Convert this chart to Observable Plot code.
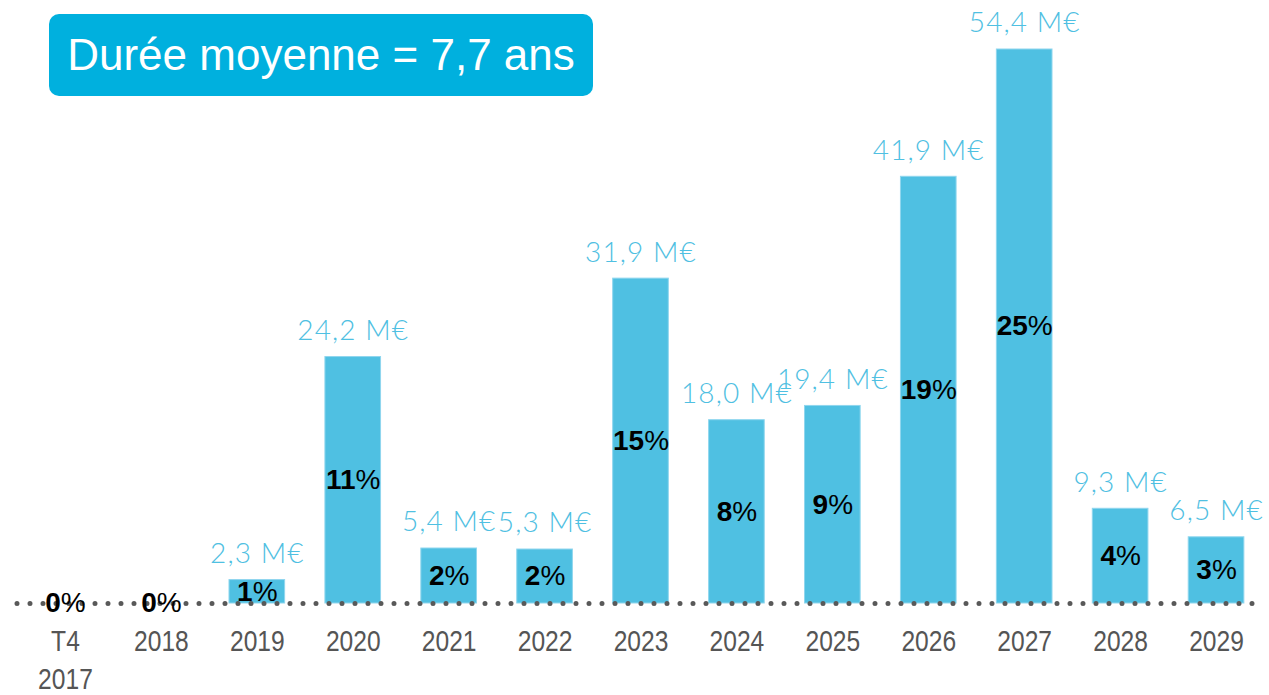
<!DOCTYPE html>
<html>
<head>
<meta charset="utf-8">
<script src="https://cdn.jsdelivr.net/npm/d3@7"></script>
<script src="https://cdn.jsdelivr.net/npm/@observablehq/plot@0.6"></script>
<style>
  html, body { margin: 0; padding: 0; background: #fff; overflow: hidden; }
  #wrap { position: relative; width: 1269px; height: 695px; }
  #title {
    position: absolute; left: 49px; top: 14px; width: 544px; height: 82px;
    background: #00b0de; border-radius: 10px; color: #fff;
    font-family: "Liberation Sans", Arial, sans-serif; font-size: 44px;
    display: flex; align-items: center; justify-content: center;
  }
</style>
</head>
<body>
<div id="wrap">
  <div id="chart"></div>
  <div id="title">Durée moyenne = 7,7 ans</div>
</div>
<script>
const categories = ["T4 2017", "2018", "2019", "2020", "2021", "2022", "2023", "2024", "2025", "2026", "2027", "2028", "2029"];
const amounts = [0, 0, 2.3, 24.2, 5.4, 5.3, 31.9, 18.0, 19.4, 41.9, 54.4, 9.3, 6.5];
const shares = [0, 0, 1, 11, 2, 2, 15, 8, 9, 19, 25, 4, 3];

const data = categories.map((c, i) => ({
  cat: c,
  amount: amounts[i],
  share: shares[i],
  label: amounts[i] > 0 ? amounts[i].toFixed(1).replace(".", ",") + " M€" : ""
}));

const barColor = "#4fc0e2";

const chart = Plot.plot({
  width: 1269,
  height: 695,
  marginLeft: 17,
  marginRight: 5,
  marginTop: 49,
  marginBottom: 92,
  x: { domain: categories, paddingInner: 0.42, paddingOuter: 0.21, round: false, label: null },
  y: { domain: [0, 54.4], axis: null },
  marks: [
    Plot.barY(data, { x: "cat", y: "amount", fill: barColor, stroke: "#8fd6ee", strokeWidth: 1 }),
    Plot.ruleY([0], { stroke: "#595959", strokeWidth: 5, strokeDasharray: "0,13", strokeLinecap: "round" }),
    Plot.text(data, {
      x: "cat", y: "amount", text: "label", dy: -26,
      fill: barColor, fontSize: 28, fontFamily: "Lato, 'Open Sans', sans-serif", fontWeight: 300
    }),
    Plot.text(data, {
      x: "cat", y: d => d.amount / 2, text: d => d.share + "%",
      fill: "#000", fontSize: 28, fontFamily: "'Liberation Sans', Arial, sans-serif"
    }),
    Plot.axisX({
      tickSize: 0, tickPadding: 20, fontSize: 30, fill: "#555555", stroke: "#555555", strokeWidth: 0.5,
      fontFamily: "'Liberation Sans', Arial, sans-serif", lineHeight: 1.27,
      tickFormat: d => d.replace(" ", "\n"), label: null
    })
  ]
});
const svg = d3.select(chart);
svg.selectAll("text").each(function () {
  const s = this.textContent;
  if (/^\d+%$/.test(s)) {
    // bold digits, regular percent sign
    this.textContent = "";
    d3.select(this).append("tspan").attr("font-weight", "bold").text(s.slice(0, -1));
    d3.select(this).append("tspan").text("%");
  } else if (/M€$/.test(s)) {
    this.setAttribute("letter-spacing", "1.1");
  }
});
// narrow the tick labels horizontally (Arial Narrow look)
svg.selectAll('g[aria-label="x-axis tick label"] text').each(function () {
  const t = this.getAttribute("transform") || "";
  this.setAttribute("transform", t + " scale(0.82,1)");
});
document.getElementById("chart").appendChild(chart);
</script>
</body>
</html>
